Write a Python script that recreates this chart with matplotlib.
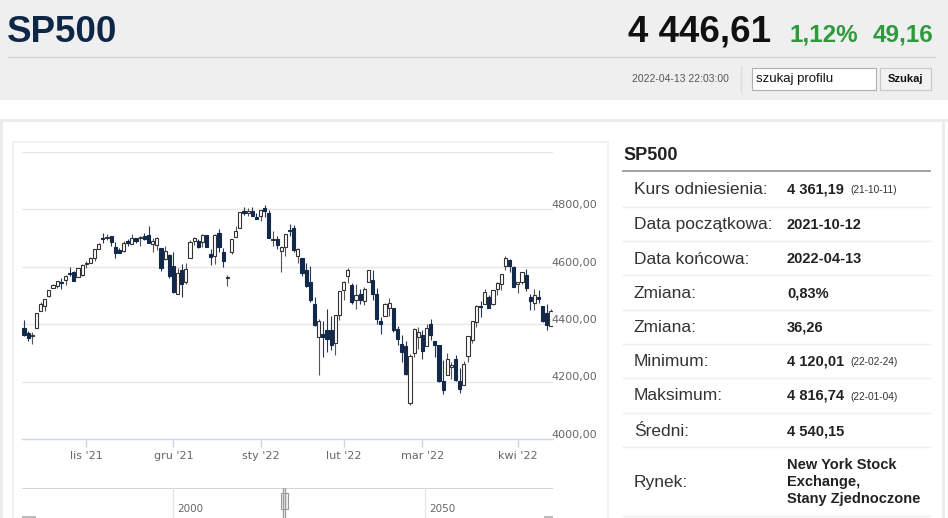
import matplotlib
matplotlib.use("Agg")
import matplotlib.pyplot as plt
import matplotlib.transforms as mtransforms
from matplotlib.patches import Rectangle

# --- data (daily OHLC) ---
dates = [
    "2021-10-11", "2021-10-12", "2021-10-13", "2021-10-14", "2021-10-15", "2021-10-18", "2021-10-19",
    "2021-10-20", "2021-10-21", "2021-10-22", "2021-10-25", "2021-10-26", "2021-10-27", "2021-10-28",
    "2021-10-29",
    "2021-11-01", "2021-11-02", "2021-11-03", "2021-11-04", "2021-11-05", "2021-11-08", "2021-11-09",
    "2021-11-10", "2021-11-11", "2021-11-12", "2021-11-15", "2021-11-16", "2021-11-17", "2021-11-18",
    "2021-11-19", "2021-11-22", "2021-11-23", "2021-11-24", "2021-11-26", "2021-11-29", "2021-11-30",
    "2021-12-01", "2021-12-02", "2021-12-03", "2021-12-06", "2021-12-07", "2021-12-08", "2021-12-09",
    "2021-12-10", "2021-12-13", "2021-12-14", "2021-12-15", "2021-12-16", "2021-12-17", "2021-12-20",
    "2021-12-22", "2021-12-23", "2021-12-27", "2021-12-28", "2021-12-29", "2021-12-30", "2021-12-31",
    "2022-01-03", "2022-01-04", "2022-01-05", "2022-01-06", "2022-01-07", "2022-01-10", "2022-01-11",
    "2022-01-12", "2022-01-13", "2022-01-14", "2022-01-18", "2022-01-19", "2022-01-20", "2022-01-21",
    "2022-01-24", "2022-01-25", "2022-01-26", "2022-01-27", "2022-01-28", "2022-01-31",
    "2022-02-01", "2022-02-02", "2022-02-03", "2022-02-04", "2022-02-07", "2022-02-08", "2022-02-09",
    "2022-02-10", "2022-02-11", "2022-02-14", "2022-02-15", "2022-02-16", "2022-02-17", "2022-02-18",
    "2022-02-22", "2022-02-23", "2022-02-24", "2022-02-25", "2022-02-28",
    "2022-03-01", "2022-03-02", "2022-03-03", "2022-03-04", "2022-03-07", "2022-03-08", "2022-03-09",
    "2022-03-10", "2022-03-11", "2022-03-14", "2022-03-15", "2022-03-16", "2022-03-17", "2022-03-18",
    "2022-03-21", "2022-03-22", "2022-03-23", "2022-03-24", "2022-03-25", "2022-03-28", "2022-03-29",
    "2022-03-30", "2022-03-31",
    "2022-04-01", "2022-04-04", "2022-04-05", "2022-04-06", "2022-04-07", "2022-04-08", "2022-04-11",
    "2022-04-12", "2022-04-13",
]

opens = [
    4385.44, 4368.31, 4358.01, 4386.75, 4447.69, 4463.72, 4497.34, 4524.42, 4532.24, 4546.12,
    4553.69, 4578.69, 4580.22, 4562.84, 4572.87,
    4610.62, 4613.34, 4630.65, 4662.93, 4699.26, 4701.48, 4707.25, 4670.26, 4659.39, 4655.24,
    4689.30, 4679.42, 4701.50, 4700.72, 4708.44, 4712.00, 4678.48, 4675.78, 4664.63, 4628.75,
    4640.25,
    4602.82, 4504.73, 4589.49, 4548.37, 4631.97, 4690.86, 4691.00, 4687.64, 4710.30, 4642.99,
    4636.46, 4719.13, 4652.50, 4562.00, 4650.36, 4703.96, 4733.99, 4795.49, 4788.64, 4794.23,
    4775.21,
    4778.14, 4804.51, 4787.99, 4693.39, 4697.66, 4655.34, 4669.14, 4728.59, 4733.56, 4637.99,
    4632.24, 4588.03, 4547.35, 4471.38, 4356.32, 4366.64, 4380.58, 4380.58, 4336.19, 4431.79,
    4519.57, 4566.39, 4535.41, 4482.79, 4505.75, 4480.02, 4547.00, 4553.24, 4506.27, 4412.61,
    4429.28, 4455.75, 4456.06, 4384.57, 4332.74, 4324.93, 4125.00, 4298.38, 4354.17,
    4363.14, 4322.56, 4401.31, 4342.12, 4327.01, 4202.66, 4223.10, 4252.55, 4279.50, 4202.75,
    4188.82, 4288.14, 4345.11, 4407.34, 4462.40, 4469.10, 4493.10, 4469.98, 4522.91, 4541.09,
    4602.86, 4624.20, 4599.02,
    4540.32, 4547.97, 4572.45, 4494.17, 4474.65, 4494.15, 4462.64, 4437.59, 4394.30,
]

highs = [
    4415.88, 4374.89, 4372.87, 4439.73, 4475.82, 4488.75, 4520.40, 4540.87, 4551.44, 4559.67,
    4572.62, 4598.53, 4584.57, 4597.55, 4608.08,
    4620.34, 4635.15, 4663.46, 4683.00, 4718.50, 4714.92, 4708.53, 4684.85, 4664.55, 4688.47,
    4697.42, 4714.95, 4701.50, 4708.80, 4717.75, 4743.83, 4699.39, 4702.87, 4664.63, 4672.95,
    4646.02,
    4652.94, 4595.46, 4608.03, 4612.60, 4694.04, 4705.06, 4695.26, 4713.57, 4710.30, 4660.47,
    4712.60, 4731.99, 4666.70, 4572.00, 4697.67, 4740.74, 4791.49, 4807.02, 4804.06, 4808.93,
    4786.83,
    4796.64, 4816.74, 4797.70, 4725.01, 4707.95, 4673.02, 4714.13, 4748.83, 4744.13, 4665.13,
    4632.24, 4611.55, 4602.11, 4494.52, 4417.35, 4411.01, 4453.23, 4428.74, 4432.72, 4516.89,
    4550.49, 4595.31, 4542.88, 4539.66, 4521.86, 4531.32, 4590.03, 4588.92, 4526.33, 4426.22,
    4472.77, 4489.55, 4456.06, 4394.60, 4362.12, 4341.51, 4294.73, 4385.34, 4388.84,
    4378.45, 4401.48, 4416.78, 4342.12, 4327.01, 4276.94, 4299.40, 4268.28, 4291.01, 4247.57,
    4271.05, 4357.86, 4412.67, 4465.40, 4481.75, 4522.00, 4501.07, 4520.58, 4546.03, 4575.65,
    4637.30, 4627.77, 4603.07,
    4548.70, 4583.50, 4593.45, 4503.94, 4521.16, 4520.41, 4464.35, 4471.00, 4453.92,
]

lows = [
    4360.59, 4342.09, 4329.92, 4386.75, 4447.69, 4447.47, 4496.41, 4524.40, 4526.89, 4524.00,
    4537.36, 4569.17, 4551.66, 4562.84, 4567.59,
    4595.06, 4613.34, 4621.19, 4662.59, 4681.32, 4694.39, 4670.87, 4630.86, 4648.31, 4650.77,
    4672.86, 4679.42, 4684.41, 4672.78, 4694.22, 4682.17, 4652.66, 4659.89, 4585.43, 4625.26,
    4560.00,
    4510.27, 4504.73, 4495.12, 4540.51, 4631.97, 4674.52, 4665.98, 4670.24, 4667.60, 4606.52,
    4611.22, 4651.89, 4600.22, 4532.00, 4645.53, 4703.96, 4733.99, 4780.04, 4778.08, 4775.33,
    4765.75,
    4758.17, 4774.27, 4699.44, 4671.26, 4662.74, 4582.24, 4638.27, 4706.71, 4650.29, 4614.75,
    4568.70, 4530.20, 4477.95, 4395.34, 4222.62, 4287.11, 4304.80, 4309.50, 4292.46, 4414.02,
    4483.53, 4544.32, 4470.39, 4451.50, 4471.47, 4465.40, 4547.00, 4484.31, 4401.41, 4364.84,
    4429.28, 4429.68, 4373.81, 4327.22, 4267.11, 4221.51, 4120.01, 4286.83, 4315.12,
    4279.54, 4322.56, 4345.56, 4284.98, 4199.85, 4157.87, 4223.10, 4209.80, 4200.49, 4161.72,
    4187.90, 4267.92, 4335.65, 4390.57, 4424.30, 4469.10, 4455.81, 4465.17, 4501.07, 4517.69,
    4589.66, 4581.32, 4530.41,
    4507.57, 4539.21, 4514.17, 4450.04, 4450.30, 4474.60, 4408.38, 4381.34, 4392.70,
]

closes = [
    4361.19, 4350.65, 4363.80, 4438.26, 4471.37, 4486.46, 4519.63, 4536.19, 4549.78, 4544.90,
    4566.48, 4574.79, 4551.68, 4596.42, 4605.38,
    4613.67, 4630.65, 4660.57, 4680.06, 4697.53, 4701.70, 4685.25, 4646.71, 4649.27, 4682.85,
    4682.80, 4700.90, 4688.67, 4704.54, 4697.96, 4682.94, 4690.70, 4701.46, 4594.62, 4655.27,
    4567.00,
    4513.04, 4577.10, 4538.43, 4591.67, 4686.75, 4701.21, 4667.45, 4712.02, 4668.97, 4634.09,
    4709.85, 4668.67, 4620.64, 4566.00, 4696.56, 4725.79, 4791.19, 4786.35, 4793.06, 4778.73,
    4766.18,
    4796.56, 4793.54, 4700.58, 4696.05, 4677.03, 4670.29, 4713.07, 4726.35, 4659.03, 4662.85,
    4577.11, 4532.76, 4482.73, 4397.94, 4410.13, 4356.45, 4349.93, 4326.51, 4431.85, 4515.55,
    4546.54, 4589.38, 4477.44, 4500.53, 4483.87, 4521.54, 4587.18, 4504.08, 4418.64, 4401.67,
    4471.07, 4475.01, 4380.26, 4348.87, 4304.76, 4225.50, 4288.70, 4384.65, 4373.94,
    4306.26, 4386.54, 4363.49, 4328.87, 4201.09, 4170.70, 4277.88, 4259.52, 4204.31, 4173.11,
    4262.45, 4357.86, 4411.67, 4463.12, 4461.18, 4511.61, 4456.24, 4520.16, 4543.06, 4575.52,
    4631.60, 4602.45, 4530.41,
    4545.86, 4582.64, 4525.12, 4481.15, 4500.21, 4488.28, 4412.53, 4397.45, 4446.59,
]

month_names = ["sty", "lut", "mar", "kwi", "maj", "cze", "lip", "sie", "wrz", "paź", "lis", "gru"]
y_ticks = [4000, 4200, 4400, 4600, 4800]
y_grid = [4200, 4400, 4600, 4800, 5000]
nav_years = [2000, 2050]
nav_range = (2021.78, 2022.28)

info_labels = ["Kurs odniesienia:", "Data początkowa:", "Data końcowa:", "Zmiana:", "Zmiana:",
               "Minimum:", "Maksimum:", "Średni:", "Rynek:"]
info_values = ["4 361,19", "2021-10-12", "2022-04-13", "0,83%", "36,26",
               "4 120,01", "4 816,74", "4 540,15", "New York Stock\nExchange,\nStany Zjednoczone"]
info_notes = ["(21-10-11)", "", "", "", "", "(22-02-24)", "(22-01-04)", "", ""]

ARIAL = ["Liberation Sans", "DejaVu Sans"]
NAVY = "#13294b"
W, H = 948, 518

fig = plt.figure(figsize=(W / 100, H / 100), dpi=100)
fig.patch.set_facecolor("white")

# page background drawn in pixel coordinates
bg = fig.add_axes([0, 0, 1, 1])
bg.set_xlim(0, W)
bg.set_ylim(H, 0)
bg.axis("off")

bg.add_patch(Rectangle((0, 0), W, 100, facecolor="#efefef", edgecolor="none"))
bg.text(7, 32, "SP500", family=ARIAL, fontweight="bold", fontsize=26.5, color="#0f2747", va="center")
bg.text(771, 32, "4 446,61", family=ARIAL, fontweight="bold", fontsize=26.5, color="#111111",
        va="center", ha="right")
bg.text(858, 35, "1,12%", family=ARIAL, fontweight="bold", fontsize=17.5, color="#2e9a3c",
        va="center", ha="right")
bg.text(933, 35, "49,16", family=ARIAL, fontweight="bold", fontsize=17.5, color="#2e9a3c",
        va="center", ha="right")
bg.plot([8, 935], [57, 57], color="#d6d6d6", lw=1)
bg.text(729, 79, "2022-04-13 22:03:00", family=ARIAL, fontsize=7.5, color="#555555",
        va="center", ha="right")
bg.plot([741, 741], [66, 92], color="#dcdcdc", lw=1)
bg.add_patch(Rectangle((752, 68), 124, 22, facecolor="white", edgecolor="#b0b0b0", lw=0.8))
bg.text(756, 79, "szukaj profilu", family=ARIAL, fontsize=9.5, color="#111111", va="center")
bg.add_patch(Rectangle((880, 68), 51, 22, facecolor="#f2f2f2", edgecolor="#c8c8c8", lw=0.8))
bg.text(905.5, 79, "Szukaj", family=ARIAL, fontsize=8, fontweight="bold", color="#111111",
        va="center", ha="center")

# panel borders
bg.plot([0, W], [120, 120], color="#ebebeb", lw=2)
bg.plot([1, 1], [120, H], color="#ebebeb", lw=2)
bg.plot([943, 943], [120, H], color="#ebebeb", lw=2)
bg.add_patch(Rectangle((13, 142), 595, 400, facecolor="none", edgecolor="#efefef", lw=1.2))

# info panel on the right
bg.text(623, 156, "SP500", family=ARIAL, fontweight="bold", fontsize=13, color="#222222", va="center")
bg.plot([623, 930], [171, 171], color="#9a9a9a", lw=1.3)
row_y = [189, 225, 259, 293, 327, 361, 396, 431, 482]
sep_y = [207, 241, 275, 310, 344, 378, 413, 447, 516]
for lab, val, note, y, s in zip(info_labels, info_values, info_notes, row_y, sep_y):
    bg.text(634, y, lab, family=ARIAL, fontsize=12.5, color="#333333", va="center")
    bg.text(787, y, val, family=ARIAL, fontsize=10.5, fontweight="bold", color="#222222",
            va="center", linespacing=1.25)
    if note:
        bg.text(850, y + 1, note, family=ARIAL, fontsize=7.3, color="#333333", va="center")
    bg.plot([623, 930], [s, s], color="#eeeeee", lw=1)

# --- candlestick chart ---
px0, px1, py_top, py_bot = 22, 553, 152, 439
step = 4.15
ax = fig.add_axes([px0 / W, (H - py_bot) / H, (px1 - px0) / W, (py_bot - py_top) / H])
ax.set_facecolor("none")
n = len(closes)
idx = list(range(n))
ax.set_xlim((px0 - 24) / step, (px1 - 24) / step)
ax.set_ylim(4000, 5000)

for v in y_grid:
    ax.axhline(v, color="#e6e6e6", lw=1, zorder=0)

up_x = [i for i in idx if closes[i] >= opens[i]]
dn_x = [i for i in idx if closes[i] < opens[i]]
ax.vlines(up_x, [lows[i] for i in up_x], [highs[i] for i in up_x], color="#555555", lw=0.8, zorder=1)
ax.vlines(dn_x, [lows[i] for i in dn_x], [highs[i] for i in dn_x], color="#23365a", lw=0.8, zorder=1)
ax.bar(up_x, [max(abs(closes[i] - opens[i]), 2.5) for i in up_x], bottom=[opens[i] for i in up_x],
       width=0.76, facecolor="white", edgecolor="#333333", lw=0.8, zorder=2)
ax.bar(dn_x, [max(abs(closes[i] - opens[i]), 2.5) for i in dn_x], bottom=[closes[i] for i in dn_x],
       width=0.76, facecolor=NAVY, edgecolor=NAVY, lw=0.8, zorder=2)

# y labels sit just above their gridlines, at the right edge
blend = mtransforms.blended_transform_factory(ax.transAxes, ax.transData)
for v in y_ticks:
    ax.annotate(f"{v},00", xy=((551 - px0) / (px1 - px0), v), xycoords=blend,
                xytext=(0, -0.6), textcoords="offset points",
                fontsize=8, color="#666666", va="bottom", ha="left", annotation_clip=False)

# month ticks at the first session of each month
tick_pos, tick_lab = [], []
for i in range(1, n):
    if dates[i][5:7] != dates[i - 1][5:7]:
        tick_pos.append(i)
        tick_lab.append(f"{month_names[int(dates[i][5:7]) - 1]} '{dates[i][2:4]}")
ax.set_xticks(tick_pos)
ax.set_xticklabels(tick_lab)
ax.tick_params(axis="x", direction="out", length=6, width=1, color="#ccd6eb",
               labelsize=8, labelcolor="#666666", pad=2.5)
ax.set_yticks([])
for side in ["top", "left", "right"]:
    ax.spines[side].set_visible(False)
ax.spines["bottom"].set_color("#ccd6eb")
ax.spines["bottom"].set_linewidth(1)

# --- navigator strip ---
nav = fig.add_axes([px0 / W, 0, (px1 - px0) / W, (H - 488) / H])
nav.set_facecolor("none")
nav.set_xlim(1970, 1970 + (px1 - px0) / 5.04)
nav.set_ylim(0, 1)
nav.axis("off")
nav.axhline(1, color="#cccccc", lw=1.2)
for yr in nav_years:
    nav.axvline(yr, color="#e6e6e6", lw=1)
    nav.annotate(str(yr), xy=(yr, 0.3), xytext=(3, 0), textcoords="offset points",
                 fontsize=7.5, color="#666666", va="center", ha="left")
for yr in nav_range:
    nav.axvline(yr, color="#a0a0a0", lw=1)
mid = sum(nav_range) / 2
nav.add_patch(Rectangle((mid - 0.7, 0.3), 1.4, 0.55, facecolor="#f2f2f2", edgecolor="#999999", lw=0.8))
nav.vlines([mid - 0.2, mid + 0.2], 0.42, 0.73, color="#999999", lw=0.6)
nav.plot([1970, 1972.6], [0.02, 0.02], color="#bbbbbb", lw=1.5)
nav.plot([2073.8, 2075.4], [0.02, 0.02], color="#bbbbbb", lw=1.5)

fig.savefig("out.png", dpi=100)
